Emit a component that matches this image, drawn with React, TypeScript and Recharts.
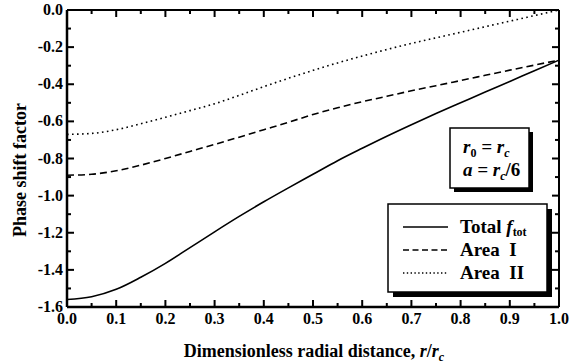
import { LineChart, Line, XAxis, YAxis, ReferenceLine } from "recharts";

const xValues = [0, 0.05, 0.1, 0.15, 0.2, 0.25, 0.3, 0.35, 0.4, 0.45, 0.5, 0.55, 0.6, 0.65, 0.7, 0.75, 0.8, 0.85, 0.9, 0.95, 1.0];
const totalValues = [-1.56, -1.545, -1.505, -1.44, -1.365, -1.28, -1.195, -1.112, -1.033, -0.958, -0.885, -0.812, -0.745, -0.68, -0.618, -0.558, -0.5, -0.442, -0.385, -0.327, -0.27];
const areaOneValues = [-0.89, -0.885, -0.866, -0.836, -0.8, -0.762, -0.724, -0.685, -0.645, -0.605, -0.563, -0.527, -0.494, -0.465, -0.435, -0.408, -0.38, -0.352, -0.324, -0.297, -0.27];
const areaTwoValues = [-0.67, -0.665, -0.645, -0.613, -0.578, -0.542, -0.505, -0.46, -0.413, -0.368, -0.325, -0.285, -0.248, -0.213, -0.18, -0.15, -0.12, -0.09, -0.06, -0.03, 0.0];

const xTicks = [0, 0.05, 0.1, 0.15, 0.2, 0.25, 0.3, 0.35, 0.4, 0.45, 0.5, 0.55, 0.6, 0.65, 0.7, 0.75, 0.8, 0.85, 0.9, 0.95, 1.0];
const yTicks = [-1.6, -1.5, -1.4, -1.3, -1.2, -1.1, -1.0, -0.9, -0.8, -0.7, -0.6, -0.5, -0.4, -0.3, -0.2, -0.1, 0.0];

const data = xValues.map((x, i) => ({
  x,
  total: totalValues[i],
  area1: areaOneValues[i],
  area2: areaTwoValues[i],
}));

const WIDTH = 581;
const HEIGHT = 364;
const MARGIN = { top: 10, right: 22, bottom: 0, left: 0 };
const Y_AXIS_W = 67;
const X_AXIS_H = 57;
const X_MIN = 0;
const X_MAX = 1;
const Y_MIN = -1.6;
const Y_MAX = 0;

const PLOT_TOP = MARGIN.top;
const PLOT_RIGHT = WIDTH - MARGIN.right;

const MAJOR = 7;
const MINOR = 4;

const FONT = "Liberation Serif, Times New Roman, serif";

const isMajor = (v: number, step: number) => {
  const r = v / step;
  return Math.abs(r - Math.round(r)) < 1e-6;
};

// inward ticks, mirrored onto the top edge
const renderBottomTick = ({ x, y, payload }: any) => {
  const major = isMajor(payload.value, 0.1);
  const len = major ? MAJOR : MINOR;
  const axisY = y - 2;
  return (
    <g>
      <rect x={x - 1} y={axisY - len} width={2} height={len} fill="#000" />
      <rect x={x - 1} y={PLOT_TOP} width={2} height={len} fill="#000" />
      {major && (
        <text x={x} y={axisY + 17} textAnchor="middle" fontFamily={FONT} fontWeight="bold" fontSize={16} fill="#000">
          {payload.value.toFixed(1)}
        </text>
      )}
    </g>
  );
};

// inward ticks, mirrored onto the right edge
const renderLeftTick = ({ x, y, payload }: any) => {
  const major = isMajor(payload.value, 0.2);
  const len = major ? MAJOR : MINOR;
  const axisX = x + 2;
  return (
    <g>
      <rect x={axisX} y={y - 1} width={len} height={2} fill="#000" />
      <rect x={PLOT_RIGHT - len} y={y - 1} width={len} height={2} fill="#000" />
      {major && (
        <text x={axisX - 4} y={y + 5} textAnchor="end" fontFamily={FONT} fontWeight="bold" fontSize={16} fill="#000">
          {payload.value.toFixed(1)}
        </text>
      )}
    </g>
  );
};

export default function App() {
  return (
    <div style={{ position: "absolute", left: 0, top: 0, width: WIDTH, height: HEIGHT, background: "#fff" }}>
      <LineChart width={WIDTH} height={HEIGHT} data={data} margin={MARGIN}>
        <XAxis
          dataKey="x"
          type="number"
          domain={[X_MIN, X_MAX]}
          ticks={xTicks}
          interval={0}
          height={X_AXIS_H}
          tickSize={0}
          tickMargin={2}
          axisLine={{ stroke: "#000", strokeWidth: 2.5 }}
          tickLine={false}
          tick={renderBottomTick}
        />
        <YAxis
          type="number"
          domain={[Y_MIN, Y_MAX]}
          ticks={yTicks}
          interval={0}
          width={Y_AXIS_W}
          tickSize={0}
          tickMargin={2}
          axisLine={{ stroke: "#000", strokeWidth: 2.5 }}
          tickLine={false}
          tick={renderLeftTick}
        />
        <ReferenceLine x={X_MAX} stroke="#000" strokeWidth={2} />
        <ReferenceLine y={Y_MAX} stroke="#000" strokeWidth={2} />
        <Line dataKey="area2" type="monotone" stroke="#000" strokeWidth={1.6} strokeDasharray="1.6 3.4" dot={false} isAnimationActive={false} />
        <Line dataKey="area1" type="monotone" stroke="#000" strokeWidth={1.6} strokeDasharray="7 4" dot={false} isAnimationActive={false} />
        <Line dataKey="total" type="monotone" stroke="#000" strokeWidth={1.6} dot={false} isAnimationActive={false} />
      </LineChart>
      <svg width={WIDTH} height={HEIGHT} style={{ position: "absolute", left: 0, top: 0, pointerEvents: "none" }}>
        <g fontFamily={FONT} fontWeight="bold" fill="#000">
          <text x={314} y={357} textAnchor="middle" fontSize={18}>
            Dimensionless radial distance,{" "}
            <tspan fontStyle="italic">r</tspan>/<tspan fontStyle="italic">r</tspan>
            <tspan fontStyle="italic" fontSize={12} dy={4}>c</tspan>
          </text>
          <text x={0} y={0} transform="translate(26,170) rotate(-90)" textAnchor="middle" fontSize={18}>
            Phase shift factor
          </text>

          {/* parameter box */}
          <rect x={454} y={132} width={79} height={60} fill="#000" />
          <rect x={450} y={128} width={79} height={60} fill="#fff" stroke="#000" strokeWidth={1.5} />
          <text x={463} y={153} fontSize={19} fontStyle="italic">
            r<tspan fontSize={12} fontStyle="normal" dy={4}>0</tspan>
            <tspan dy={-4}> = r</tspan>
            <tspan fontSize={12} dy={4}>c</tspan>
          </text>
          <text x={463} y={176} fontSize={19} fontStyle="italic">
            a = r<tspan fontSize={12} dy={4}>c</tspan>
            <tspan dy={-4} fontStyle="normal">/6</tspan>
          </text>

          {/* legend */}
          <rect x={393} y={209} width={159} height={88} fill="#000" />
          <rect x={388} y={204} width={159} height={88} fill="#fff" stroke="#000" strokeWidth={1.5} />
          <line x1={403} x2={448} y1={227} y2={227} stroke="#000" strokeWidth={1.6} />
          <line x1={403} x2={448} y1={250} y2={250} stroke="#000" strokeWidth={1.6} strokeDasharray="6 3.5" />
          <line x1={403} x2={448} y1={273} y2={273} stroke="#000" strokeWidth={1.4} strokeDasharray="1.4 2.4" />
          <text x={460} y={233} fontSize={19}>
            Total <tspan fontStyle="italic">f</tspan>
            <tspan fontSize={12} dy={3}>tot</tspan>
          </text>
          <text x={460} y={256} fontSize={19}>
            Area{"\u00a0\u00a0"}I
          </text>
          <text x={460} y={279} fontSize={19}>
            Area{"\u00a0\u00a0"}II
          </text>
        </g>
      </svg>
    </div>
  );
}
